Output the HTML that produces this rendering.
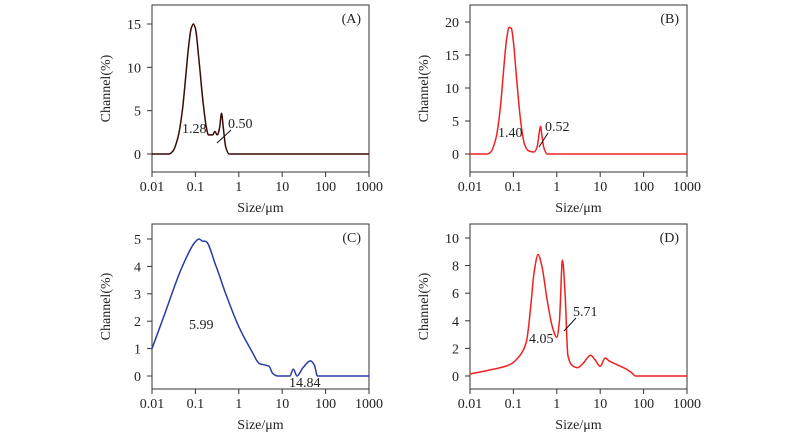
<!DOCTYPE html>
<html><head><meta charset="utf-8"><style>
body{margin:0;background:#fff}
svg{display:block;font-family:"Liberation Serif",serif}
</style></head><body>
<svg id="c" width="800" height="442" viewBox="0 0 800 442"></svg>
<script>
const xTickLabels=["0.01","0.1","1","10","100","1000"];
const sizesA=[0.01,0.025,0.03,0.04,0.05,0.06,0.07,0.08,0.09,0.1,0.12,0.15,0.18,0.2,0.25,0.28,0.32,0.36,0.4,0.44,0.5,0.6,1000];
const valuesA=[0,0,0.3,2,5,9,12.5,14.5,15,14.5,11,6,3,2.2,2.2,2.6,2.2,3,4.7,3,0.8,0,0];
const sizesB=[0.01,0.025,0.03,0.04,0.05,0.06,0.07,0.08,0.09,0.1,0.12,0.15,0.18,0.22,0.3,0.35,0.4,0.42,0.45,0.5,0.6,1000];
const valuesB=[0,0,0.3,2.5,7,13,17.5,19.2,19,17,11,4.5,1.5,0.5,0.3,1,3.5,4.2,3,1,0,0];
const sizesC=[0.01,0.02,0.05,0.1,0.12,0.15,0.17,0.3,0.5,1,2,3,4,5,6,8,15,18,22,30,45,55,65,1000];
const valuesC=[1,2.3,4,4.9,5,4.92,4.92,4,3,1.8,0.9,0.45,0.4,0.35,0.1,0,0,0.25,0,0.3,0.55,0.4,0,0];
const sizesD=[0.01,0.03,0.08,0.15,0.2,0.25,0.3,0.37,0.45,0.6,0.8,1.0,1.15,1.35,1.55,1.8,2.2,3,4,6,7.5,10,13,16,25,40,55,65,1000];
const valuesD=[0.15,0.45,0.8,1.6,2.5,5,7.5,8.8,8,5.5,3.5,2.8,4,8.4,6,1.5,0.8,0.6,0.9,1.5,1.2,0.7,1.3,1.1,0.8,0.5,0.2,0,0];
const yTicksA=[0,5,10,15], yTicksB=[0,5,10,15,20], yTicksC=[0,1,2,3,4,5], yTicksD=[0,2,4,6,8,10];

const NS="http://www.w3.org/2000/svg", svg=document.getElementById('c');
function el(t,a,p){const e=document.createElementNS(NS,t);for(const k in a)e.setAttribute(k,a[k]);(p||svg).appendChild(e);return e;}
function txt(s,a,p){const e=el('text',a,p);e.textContent=s;return e;}

function monoPath(P){
  const n=P.length, dx=[], s=[], m=[];
  for(let i=0;i<n-1;i++){dx[i]=P[i+1][0]-P[i][0];s[i]=(P[i+1][1]-P[i][1])/dx[i];}
  m[0]=s[0];m[n-1]=s[n-2];
  for(let i=1;i<n-1;i++){
    if(s[i-1]*s[i]<=0)m[i]=0;
    else{const w1=2*dx[i]+dx[i-1],w2=dx[i]+2*dx[i-1];m[i]=(w1+w2)/(w1/s[i-1]+w2/s[i]);}
  }
  let d='M'+P[0][0].toFixed(2)+','+P[0][1].toFixed(2);
  for(let i=0;i<n-1;i++){
    const h=dx[i]/3;
    d+=` C${(P[i][0]+h).toFixed(2)},${(P[i][1]+m[i]*h).toFixed(2)} ${(P[i+1][0]-h).toFixed(2)},${(P[i+1][1]-m[i+1]*h).toFixed(2)} ${P[i+1][0].toFixed(2)},${P[i+1][1].toFixed(2)}`;
  }
  return d;
}

function panel(o){
  const g=el('g',{});
  
  
  const X=v=>o.x0+(Math.log10(v)+2)/5*(o.x1-o.x0);
  const Y=v=>o.yz+(o.yr-o.yz)*v/o.rv;
  const fr=el('rect',{x:o.x0,y:o.t,width:o.x1-o.x0,height:o.b-o.t,fill:'none',stroke:'#333','stroke-width':1},g);
  
  
  xTickLabels.forEach(l=>{const x=X(+l);
    el('line',{x1:x,x2:x,y1:o.b,y2:o.b+5,stroke:'#333'},g);
    const t=txt(l,{x:x,y:o.b+19,'text-anchor':'middle','font-size':14,fill:'#222'},g);
    
    });
  o.yt.forEach(v=>{const y=Y(v);
    el('line',{x1:o.x0-5,x2:o.x0,y1:y,y2:y,stroke:'#333'},g);
    const t=txt(String(v),{x:o.x0-11,y:y+5,'text-anchor':'end','font-size':14,fill:'#222'},g);
    
    });
  const xt=txt('Size/μm',{x:(o.x0+o.x1)/2,y:o.b+40,'text-anchor':'middle','font-size':14,fill:'#222'},g);
  
  
  const cy=(o.t+o.b)/2, cx=o.x0-42;
  const yt=txt('Channel(%)',{x:cx,y:cy,'text-anchor':'middle','font-size':14,fill:'#222',transform:`rotate(-90 ${cx} ${cy})`},g);
  
  
  const pl=txt('('+o.id+')',{x:o.x1-8,y:o.t+18,'text-anchor':'end','font-size':14,fill:'#222'},g);
  
  
  const P=o.sx.map((s,i)=>[X(s),Y(o.vy[i])]);
  const ln=el('path',{d:monoPath(P),fill:'none',stroke:o.col,'stroke-width':1.5},g);
  
  
  o.ann.forEach(a=>{const t=txt(a[0],{x:a[1],y:a[2],'font-size':14,fill:'#222'},g);
    
    });
  if(o.tick)el('line',{x1:o.tick[0],y1:o.tick[1],x2:o.tick[2],y2:o.tick[3],stroke:'#111','stroke-width':1},g);
}
panel({id:'A',x0:152,x1:369,t:5,b:172,yz:154,yr:24,rv:15,yt:yTicksA,sx:sizesA,vy:valuesA,col:'#3a0a05',
  ann:[['1.28',182,133],['0.50',228,128]],tick:[217,143,231,130]});
panel({id:'B',x0:470,x1:687,t:5,b:172,yz:154,yr:22,rv:20,yt:yTicksB,sx:sizesB,vy:valuesB,col:'#f02020',
  ann:[['1.40',498,137],['0.52',545,131]],tick:[539,147,548,133]});
panel({id:'C',x0:152,x1:369,t:224,b:389,yz:376,yr:239,rv:5,yt:yTicksC,sx:sizesC,vy:valuesC,col:'#2a3aa8',
  ann:[['5.99',189,329],['14.84',289,387]]});
panel({id:'D',x0:470,x1:687,t:224,b:389,yz:376,yr:238,rv:10,yt:yTicksD,sx:sizesD,vy:valuesD,col:'#f02020',
  ann:[['4.05',529,343],['5.71',573,316]],tick:[564,331,576,318]});
</script>
</body></html>
